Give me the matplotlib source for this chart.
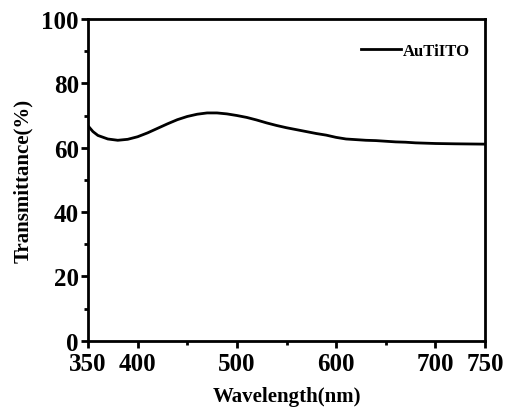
import numpy as np
import matplotlib
matplotlib.use("Agg")
import matplotlib.pyplot as plt
from matplotlib.ticker import FixedLocator, MultipleLocator

# Transmittance spectrum of the AuTiITO film
wavelength = [350, 355, 360, 370, 380, 390, 400, 410, 420, 430, 440, 450,
              460, 470, 480, 490, 500, 510, 520, 530, 540, 550, 560, 570,
              580, 590, 600, 610, 620, 630, 640, 650, 660, 670, 680, 690,
              700, 720, 750]
transmittance = [66.8, 65.0, 63.8, 62.7, 62.3, 62.6, 63.4, 64.6, 66.0, 67.4,
                 68.7, 69.7, 70.4, 70.8, 70.8, 70.5, 70.0, 69.4, 68.6, 67.7,
                 66.9, 66.2, 65.6, 65.0, 64.4, 63.9, 63.2, 62.7, 62.5, 62.3,
                 62.2, 62.0, 61.8, 61.7, 61.5, 61.4, 61.3, 61.2, 61.1]
x_ticks = [350, 400, 500, 600, 700, 750]
x_minor = [450, 550, 650]
y_ticks = [0, 20, 40, 60, 80, 100]
series_label = "AuTiITO"

plt.rcParams["font.family"] = ["Liberation Serif", "DejaVu Serif"]
plt.rcParams["font.weight"] = "bold"

fig = plt.figure(figsize=(5.07, 4.14), dpi=100)
ax = fig.add_axes([88 / 507, 1 - 341.7 / 414, (485 - 88) / 507, (341.7 - 20) / 414])

ax.plot(wavelength, transmittance, color="black", lw=2.0, label=series_label)

ax.set_xlim(350, 750)
ax.set_ylim(0, 100)
ax.xaxis.set_major_locator(FixedLocator(x_ticks))
ax.xaxis.set_minor_locator(FixedLocator(x_minor))
ax.yaxis.set_major_locator(FixedLocator(y_ticks))
ax.yaxis.set_minor_locator(MultipleLocator(10))

for s in ax.spines.values():
    s.set_linewidth(2.0)
ax.tick_params(which="major", direction="out", length=5, width=2, labelsize=18)
ax.tick_params(axis="y", which="major", pad=1.5)
ax.tick_params(axis="x", which="major", pad=3)
ax.tick_params(which="minor", direction="out", length=3, width=2)
for lab in ax.get_xticklabels() + ax.get_yticklabels():
    lab.set_fontweight("bold")

ax.set_xlabel("Wavelength(nm)", fontsize=15, fontweight="bold", labelpad=8)
ax.set_ylabel("Transmittance(%)", fontsize=15, fontweight="bold", labelpad=6)

ax.legend(loc="center right", frameon=False, borderpad=0, borderaxespad=0,
          handlelength=2.4, handletextpad=0.1,
          bbox_to_anchor=((470 - 88) / 397, (341.7 - 52) / 321.7),
          prop={"weight": "bold", "size": 12})

fig.savefig("out.png", dpi=100)
